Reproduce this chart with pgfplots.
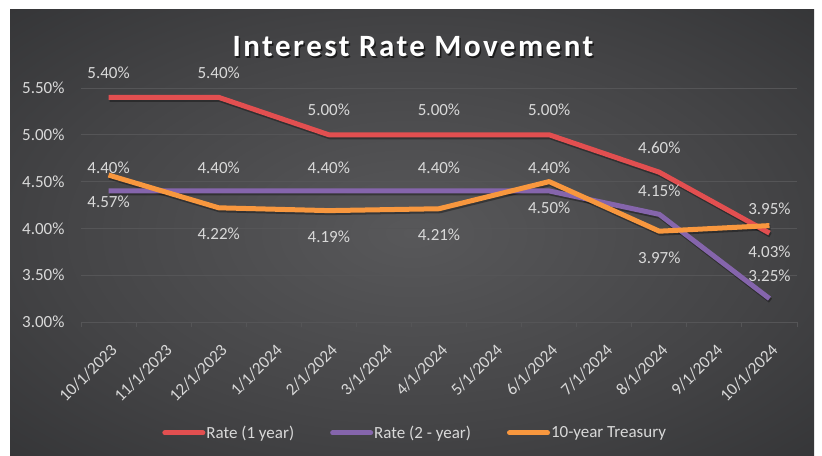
\documentclass[border=0pt]{standalone}
\usepackage{pgfplots}
\pgfplotsset{compat=1.18}
\usepackage{fontspec}
\setmainfont{Carlito}
\definecolor{bg0}{HTML}{58585A}
\definecolor{bg1}{HTML}{444446}
\definecolor{bg2}{HTML}{28292B}
\definecolor{bg3}{HTML}{18191B}
\definecolor{cred}{HTML}{E24F50}
\definecolor{cpur}{HTML}{8565AC}
\definecolor{cora}{HTML}{F8973E}
\definecolor{gridc}{HTML}{555557}
\definecolor{txt}{HTML}{D9D9D9}
\pgfdeclareradialshading{bgshade}{\pgfpoint{0bp}{0bp}}{color(0bp)=(bg0); color(22bp)=(bg1); color(48bp)=(bg2); color(72bp)=(bg3)}
\newcommand{\lblfont}{\fontsize{17bp}{20bp}\selectfont}
\newcommand{\pct}{\pgfmathprintnumber[fixed,fixed zerofill,precision=2,assume math mode=true]{\pgfplotspointmeta}\%}
\begin{document}
\begin{tikzpicture}
\fill[white] (0,0) rectangle (822bp,456bp);
\fill[shading=bgshade] (10bp,0) rectangle (814bp,446bp);
\node[text=black, opacity=0.6, font=\fontsize{31bp}{36bp}\selectfont\bfseries\addfontfeature{LetterSpace=8}] at (414.5bp,407.5bp) {Interest Rate Movement};
\node[text=white, font=\fontsize{31bp}{36bp}\selectfont\bfseries\addfontfeature{LetterSpace=8}] at (413bp,409bp) {Interest Rate Movement};
\begin{axis}[
  at={(81bp,134bp)}, anchor=south west,
  scale only axis, width=716bp, height=234bp,
  xmin=-0.5, xmax=12.5, ymin=3, ymax=5.5,
  axis line style={draw=none},
  ytick={3,3.5,4,4.5,5,5.5},
  yticklabels={3.00\%,3.50\%,4.00\%,4.50\%,5.00\%,5.50\%},
  ymajorgrids, grid style={gridc, line width=0.9bp},
  major tick length=0pt,
  xtick={0,...,12},
  xticklabels={10/1/2023,11/1/2023,12/1/2023,1/1/2024,2/1/2024,3/1/2024,4/1/2024,5/1/2024,6/1/2024,7/1/2024,8/1/2024,9/1/2024,10/1/2024},
  minor xtick={-0.5,0.5,...,12.5},
  minor tick length=5bp, minor tick style={gridc, line width=0.9bp},
  tick align=outside, tick pos=left,
  tick label style={font=\lblfont, text=txt},
  yticklabel style={xshift=-13bp},
  xticklabel style={xshift=1bp, yshift=-19bp, rotate=45, anchor=north east, inner sep=1bp},
  legend style={at={(0.466,-0.474)}, anchor=center, draw=none, fill=none,
    font=\lblfont, text=txt, legend columns=3,
    /tikz/every even column/.append style={column sep=35bp},
    nodes={inner sep=1bp}},
  legend image code/.code={\draw[#1, line width=5bp, line cap=round] (2.5bp,0bp) -- (40.5bp,0bp);},
  every axis plot/.append style={line width=5bp, line join=round},
  point meta=y,
]
% shadows
\addplot[black, opacity=0.35, forget plot, yshift=-2bp, xshift=1bp] coordinates {(0,5.40) (2,5.40) (4,5.00) (6,5.00) (8,5.00) (10,4.60) (12,3.95)};
\addplot[black, opacity=0.35, forget plot, yshift=-2bp, xshift=1bp] coordinates {(0,4.40) (2,4.40) (4,4.40) (6,4.40) (8,4.40) (10,4.15) (12,3.25)};
\addplot[black, opacity=0.35, forget plot, yshift=-2bp, xshift=1bp] coordinates {(0,4.57) (2,4.22) (4,4.19) (6,4.21) (8,4.50) (10,3.97) (12,4.03)};
% series
\addplot[cred, nodes near coords={\pct}, every node near coord/.style={anchor=base, yshift=19bp, inner sep=0pt, font=\lblfont, text=txt}]
  coordinates {(0,5.40) (2,5.40) (4,5.00) (6,5.00) (8,5.00) (10,4.60) (12,3.95)};
\addlegendentry{Rate (1 year)}
\addplot[cpur, nodes near coords={\pct}, every node near coord/.style={anchor=base, yshift=17.5bp, inner sep=0pt, font=\lblfont, text=txt}]
  coordinates {(0,4.40) (2,4.40) (4,4.40) (6,4.40) (8,4.40) (10,4.15) (12,3.25)};
\addlegendentry{Rate (2 - year)}
\addplot[cora, nodes near coords={\pct}, every node near coord/.style={anchor=base, yshift=-32bp, inner sep=0pt, font=\lblfont, text=txt}]
  coordinates {(0,4.57) (2,4.22) (4,4.19) (6,4.21) (8,4.50) (10,3.97) (12,4.03)};
\addlegendentry{10-year Treasury}
\end{axis}
\end{tikzpicture}
\end{document}
